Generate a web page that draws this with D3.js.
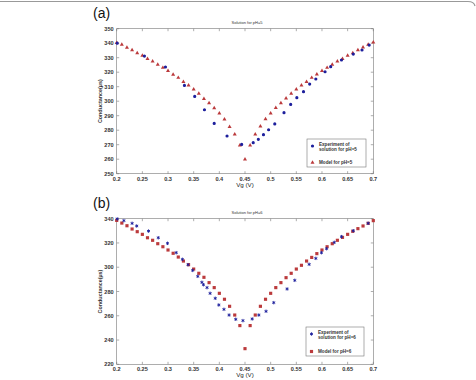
<!DOCTYPE html>
<html>
<head>
<meta charset="utf-8">
<script src="https://cdn.jsdelivr.net/npm/d3@7"></script>
<style>
body { margin: 0; background: #fff; }
svg { display: block; font-family: "Liberation Sans", Arial, sans-serif; }
</style>
</head>
<body>
<svg id="chart" width="476" height="380"></svg>
<script>
// model curves, sampled every 0.01 V from 0.2 to 0.7
var modelX = d3.range(0, 51).map(function (i) { return +(0.2 + i * 0.01).toFixed(2); });
var modelA = [340.3, 339.0, 336.9, 335.3, 333.2, 331.4, 329.3, 327.5, 325.2, 323.1,
              321.0, 318.3, 316.2, 313.4, 310.9, 308.2, 305.2, 301.7, 298.7, 295.3,
              291.6, 287.5, 282.4, 277.1, 269.5, 259.9, 269.5, 277.1, 282.6, 287.7,
              291.6, 295.5, 298.7, 302.0, 305.2, 308.2, 310.9, 313.4, 316.2, 318.5,
              321.0, 323.1, 325.2, 327.5, 329.3, 331.4, 333.2, 335.3, 337.1, 339.0, 340.6];
var modelB = [338.6, 336.4, 334.2, 331.5, 329.3, 327.1, 324.3, 322.2, 319.4, 316.9,
              314.2, 311.5, 308.4, 305.1, 302.1, 298.5, 295.0, 291.7, 287.3, 283.2,
              278.5, 273.6, 267.8, 260.6, 251.9, 232.9, 251.9, 260.6, 267.8, 273.6,
              278.5, 283.2, 287.3, 291.4, 295.0, 298.5, 301.6, 305.1, 308.1, 311.2,
              314.2, 316.9, 319.4, 322.2, 324.6, 327.1, 329.6, 331.8, 334.0, 336.2, 338.4];

// measured points
var expAx = [0.201, 0.254, 0.295, 0.332, 0.352, 0.371, 0.390, 0.415, 0.4435, 0.466,
             0.476, 0.486, 0.496, 0.508, 0.526, 0.539, 0.551, 0.564, 0.576, 0.588,
             0.606, 0.617, 0.638, 0.661, 0.678, 0.692];
var expAy = [340.0, 331.1, 323.6, 310.9, 303.3, 294.1, 284.7, 276.0, 270.2, 271.4,
             273.7, 276.9, 280.3, 284.3, 292.1, 297.8, 302.4, 306.6, 311.8, 315.3,
             320.3, 323.8, 328.4, 332.5, 335.3, 338.7];
var expBx = [0.201, 0.214, 0.230, 0.239, 0.262, 0.281, 0.299, 0.316, 0.328, 0.339,
             0.348, 0.358, 0.366, 0.369, 0.376, 0.382, 0.392, 0.399, 0.409, 0.419,
             0.432, 0.446, 0.464, 0.477, 0.491, 0.506, 0.532, 0.547, 0.575, 0.588,
             0.599, 0.609, 0.624, 0.638, 0.661, 0.690];
var expBy = [339.8, 338.4, 336.2, 334.0, 329.8, 324.3, 319.7, 312.0, 306.5, 302.1,
             297.4, 292.5, 287.6, 285.6, 283.2, 278.5, 274.4, 268.9, 265.3, 260.6,
             257.1, 256.0, 257.4, 260.6, 263.7, 270.8, 282.1, 289.2, 302.4, 307.3,
             312.0, 315.3, 320.5, 325.2, 330.1, 336.2];

var xTicks = [0.2, 0.25, 0.3, 0.35, 0.4, 0.45, 0.5, 0.55, 0.6, 0.65, 0.7];
var yTicksA = [250, 260, 270, 280, 290, 300, 310, 320, 330, 340, 350];
var yTicksB = [220, 240, 260, 280, 300, 320, 340];

var blue = "#1d1f9c", red = "#bb3a3c";
var svg = d3.select("#chart");

// figure frame (top edge only shows)
svg.append("path")
    .attr("d", "M0,1.5 L468,1.5 Q474,1.5 475,6")
    .attr("fill", "none")
    .attr("stroke", "#999")
    .attr("stroke-width", 1.2);

function panel(o) {
    var x = d3.scaleLinear().domain([0.2, 0.7]).range([116.7, 373.3]);
    var y = d3.scaleLinear().domain(o.yDomain).range([o.bottom, o.top]);
    var g = svg.append("g");

    g.append("text").attr("x", 93).attr("y", o.top - 11)
        .attr("font-size", 14).attr("fill", "#111").text(o.letter);

    g.append("text").attr("x", 247).attr("y", o.top - 5)
        .attr("text-anchor", "middle").attr("font-size", 4).attr("fill", "#333")
        .text(o.title);

    var tick = 2.5;
    var axes = g.append("g").attr("stroke", "#777").attr("stroke-width", 0.6);
    axes.append("rect").attr("x", x.range()[0]).attr("y", o.top)
        .attr("width", x.range()[1] - x.range()[0]).attr("height", o.bottom - o.top)
        .attr("fill", "none");
    xTicks.forEach(function (t) {
        axes.append("line").attr("x1", x(t)).attr("x2", x(t)).attr("y1", o.bottom).attr("y2", o.bottom - tick);
        axes.append("line").attr("x1", x(t)).attr("x2", x(t)).attr("y1", o.top).attr("y2", o.top + tick);
    });
    o.yTicks.forEach(function (t) {
        axes.append("line").attr("x1", x.range()[0]).attr("x2", x.range()[0] + tick).attr("y1", y(t)).attr("y2", y(t));
        axes.append("line").attr("x1", x.range()[1]).attr("x2", x.range()[1] - tick).attr("y1", y(t)).attr("y2", y(t));
    });

    var lab = g.append("g").attr("font-size", 5.6).attr("font-weight", "bold").attr("fill", "#333");
    lab.selectAll(".xt").data(xTicks).enter().append("text")
        .attr("x", function (d) { return x(d); }).attr("y", o.bottom + 7)
        .attr("text-anchor", "middle").text(function (d) { return d; });
    lab.selectAll(".yt").data(o.yTicks).enter().append("text")
        .attr("x", x.range()[0] - 3).attr("y", function (d) { return y(d) + 2; })
        .attr("text-anchor", "end").text(function (d) { return d; });

    g.append("text").attr("x", 245).attr("y", o.bottom + 13)
        .attr("text-anchor", "middle").attr("font-size", 6.2).attr("fill", "#222")
        .text("Vg (V)");
    g.append("text")
        .attr("transform", "translate(102," + ((o.top + o.bottom) / 2) + ") rotate(-90)")
        .attr("text-anchor", "middle").attr("font-size", 5.4).attr("font-weight", "bold").attr("fill", "#333")
        .text("Conductance(\u00b5s)");

    // model series
    g.selectAll(".m").data(modelX).enter().append("path")
        .attr("transform", function (d, i) { return "translate(" + x(d) + "," + y(o.model[i]) + ")"; })
        .attr("d", o.modelSymbol).attr("fill", red);

    // experiment series
    g.selectAll(".e").data(o.ex).enter().append("path")
        .attr("transform", function (d, i) { return "translate(" + x(d) + "," + y(o.ey[i]) + ")"; })
        .attr("d", o.expSymbol).attr("fill", blue).attr("stroke", blue).attr("stroke-width", o.expStroke);

    // legend
    var L = o.legend;
    var leg = g.append("g");
    leg.append("rect").attr("x", L.x).attr("y", L.y).attr("width", L.w).attr("height", L.h)
        .attr("fill", "#fff").attr("stroke", "#777").attr("stroke-width", 0.6);
    leg.append("path").attr("transform", "translate(" + (L.x + 5.5) + "," + (L.y + 7) + ")")
        .attr("d", o.expSymbol).attr("fill", blue).attr("stroke", blue).attr("stroke-width", o.expStroke);
    leg.append("path").attr("transform", "translate(" + (L.x + 5.5) + "," + (L.y + L.h - 4.5) + ")")
        .attr("d", o.modelSymbol).attr("fill", red);
    var lt = leg.append("g").attr("font-size", 4.6).attr("font-weight", "bold").attr("fill", "#333");
    lt.append("text").attr("x", L.x + 12).attr("y", L.y + 6.5).text("Experiment of");
    lt.append("text").attr("x", L.x + 12).attr("y", L.y + 12.3).text(o.expLabel);
    lt.append("text").attr("x", L.x + 12).attr("y", L.y + L.h - 3).text(o.modelLabel);
}

panel({
    letter: "(a)", title: "Solution for pH=5",
    top: 28.7, bottom: 173.7, yDomain: [250, 350], yTicks: yTicksA,
    model: modelA, ex: expAx, ey: expAy,
    modelSymbol: d3.symbol().type(d3.symbolTriangle).size(7)(),
    expSymbol: d3.symbol().type(d3.symbolCircle).size(8)(), expStroke: 0,
    legend: { x: 307, y: 139, w: 59, h: 28 },
    expLabel: "solution for pH=5", modelLabel: "Model for pH=5"
});

panel({
    letter: "(b)", title: "Solution for pH=6",
    top: 218.7, bottom: 364.3, yDomain: [220, 340], yTicks: yTicksB,
    model: modelB, ex: expBx, ey: expBy,
    modelSymbol: d3.symbol().type(d3.symbolSquare).size(10)(),
    expSymbol: d3.symbol().type(d3.symbolAsterisk).size(8)(), expStroke: 0.9,
    legend: { x: 306, y: 327, w: 58, h: 29 },
    expLabel: "solution for pH=6", modelLabel: "Model for pH=6"
});
</script>
</body>
</html>
